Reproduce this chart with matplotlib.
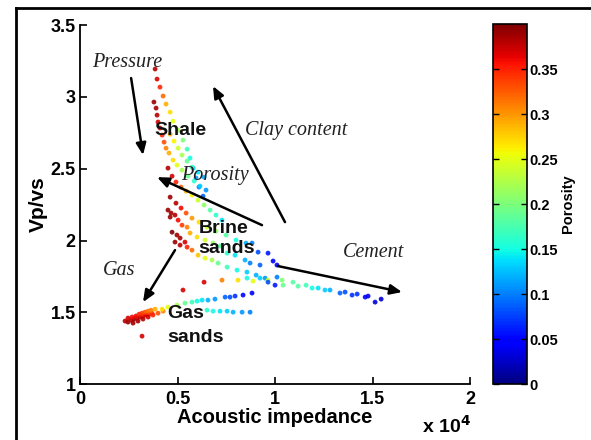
import matplotlib
matplotlib.use("Agg")
import matplotlib.pyplot as plt
from matplotlib.lines import Line2D

# ---- data: acoustic impedance (x 10^4), Vp/Vs, porosity ----
shale_ai = [0.385, 0.395, 0.410, 0.426, 0.441, 0.462, 0.477, 0.503, 0.528, 0.549, 0.564, 0.580, 0.595, 0.610, 0.631,
            0.379, 0.390, 0.395, 0.400, 0.410, 0.421, 0.431, 0.441, 0.456, 0.477, 0.497, 0.523, 0.554, 0.585, 0.615, 0.646,
            0.462, 0.482, 0.503, 0.523, 0.549, 0.574, 0.605, 0.636]
shale_vpvs = [3.194, 3.124, 3.068, 3.006, 2.950, 2.894, 2.831, 2.769, 2.699, 2.636, 2.574, 2.504, 2.435, 2.372, 2.309,
              2.964, 2.922, 2.873, 2.825, 2.783, 2.734, 2.685, 2.643, 2.609, 2.560, 2.525, 2.490, 2.448, 2.414, 2.379, 2.351,
              2.741, 2.692, 2.643, 2.595, 2.553, 2.511, 2.476, 2.441]
shale_phi = [0.38, 0.37, 0.35, 0.32, 0.29, 0.27, 0.25, 0.22, 0.20, 0.17, 0.15, 0.13, 0.11, 0.10, 0.09,
             0.39, 0.385, 0.38, 0.37, 0.36, 0.35, 0.33, 0.31, 0.29, 0.27, 0.25, 0.22, 0.19, 0.16, 0.13, 0.11,
             0.29, 0.26, 0.24, 0.22, 0.19, 0.17, 0.14, 0.12]

brine_ai = [0.451, 0.472, 0.492, 0.518, 0.544, 0.574, 0.605, 0.636, 0.667, 0.697, 0.728,
            0.462, 0.492, 0.518, 0.544, 0.574, 0.610, 0.651, 0.697, 0.749, 0.800, 0.851, 0.882, 0.913, 0.964, 0.990, 1.010,
            0.451, 0.467, 0.487, 0.462, 0.503, 0.523, 0.549, 0.564, 0.600, 0.641, 0.682, 0.718, 0.754, 0.795, 0.846, 0.872, 0.923,
            0.472, 0.497, 0.513, 0.538, 0.487, 0.513, 0.549, 0.574, 0.605, 0.641, 0.677, 0.708, 0.754, 0.805, 0.856, 0.903, 0.949, 1.010]
brine_vpvs = [2.504, 2.448, 2.407, 2.372, 2.344, 2.316, 2.281, 2.247, 2.212, 2.177, 2.142,
              2.302, 2.260, 2.226, 2.191, 2.156, 2.128, 2.093, 2.065, 2.038, 2.003, 1.982, 1.982, 1.919, 1.912, 1.857, 1.829,
              2.212, 2.191, 2.177, 2.163, 2.142, 2.107, 2.093, 2.052, 2.024, 2.003, 1.982, 1.961, 1.912, 1.898, 1.864, 1.843, 1.829,
              2.058, 2.038, 2.017, 1.989, 1.989, 1.968, 1.954, 1.933, 1.898, 1.877, 1.864, 1.843, 1.815, 1.794, 1.780, 1.759, 1.738, 1.745]
brine_phi = [0.38, 0.37, 0.35, 0.32, 0.29, 0.26, 0.24, 0.21, 0.18, 0.16, 0.14,
             0.39, 0.38, 0.36, 0.33, 0.30, 0.27, 0.24, 0.21, 0.18, 0.15, 0.12, 0.10, 0.08, 0.06, 0.05, 0.04,
             0.39, 0.385, 0.38, 0.39, 0.36, 0.34, 0.31, 0.29, 0.27, 0.24, 0.21, 0.18, 0.16, 0.14, 0.12, 0.10, 0.09,
             0.40, 0.39, 0.385, 0.37, 0.39, 0.38, 0.35, 0.32, 0.28, 0.25, 0.22, 0.19, 0.17, 0.15, 0.13, 0.12, 0.11, 0.10]

cement_ai = [0.636, 0.728, 0.810, 0.887, 0.964, 1.036, 1.092, 1.118, 1.159, 1.190, 1.221, 1.256, 1.282, 1.333,
             1.359, 1.395, 1.421, 1.462, 1.477, 1.513, 1.544,
             0.964, 1.000, 1.041, 0.856, 0.923, 0.528, 0.318]
cement_vpvs = [1.710, 1.724, 1.724, 1.717, 1.724, 1.724, 1.710, 1.682, 1.689, 1.669, 1.669, 1.655, 1.655, 1.634,
               1.641, 1.620, 1.627, 1.606, 1.613, 1.571, 1.592,
               1.710, 1.689, 1.689, 1.738, 1.738, 1.655, 1.334]
cement_phi = [0.37, 0.31, 0.27, 0.25, 0.24, 0.20, 0.18, 0.18, 0.17, 0.15, 0.14, 0.13, 0.12, 0.09,
              0.08, 0.07, 0.07, 0.05, 0.04, 0.03, 0.03,
              0.08, 0.06, 0.19, 0.15, 0.13, 0.37, 0.37]

gas_ai = [0.231, 0.246, 0.262, 0.277, 0.292, 0.308, 0.323, 0.338, 0.354, 0.369,
          0.246, 0.267, 0.287, 0.303, 0.318, 0.333, 0.349, 0.364, 0.385,
          0.272, 0.297, 0.323, 0.349, 0.374, 0.400, 0.426,
          0.421, 0.451, 0.497, 0.538, 0.574, 0.600, 0.626, 0.656, 0.692, 0.744, 0.769, 0.795, 0.836, 0.882,
          0.651, 0.682, 0.718, 0.754, 0.785, 0.831, 0.872]
gas_vpvs = [1.439, 1.432, 1.446, 1.453, 1.460, 1.467, 1.474, 1.481, 1.487, 1.494,
            1.460, 1.467, 1.474, 1.487, 1.494, 1.501, 1.508, 1.515, 1.522,
            1.425, 1.439, 1.453, 1.467, 1.481, 1.494, 1.508,
            1.522, 1.536, 1.550, 1.564, 1.571, 1.578, 1.585, 1.585, 1.592, 1.606, 1.606, 1.613, 1.620, 1.634,
            1.515, 1.508, 1.508, 1.508, 1.501, 1.501, 1.501]
gas_phi = [0.38, 0.39, 0.38, 0.39, 0.37, 0.38, 0.36, 0.37, 0.35, 0.34,
           0.37, 0.36, 0.36, 0.35, 0.34, 0.33, 0.32, 0.31, 0.29,
           0.39, 0.385, 0.38, 0.37, 0.35, 0.33, 0.31,
           0.27, 0.25, 0.22, 0.19, 0.17, 0.15, 0.14, 0.12, 0.11, 0.09, 0.08, 0.07, 0.05, 0.04,
           0.16, 0.15, 0.14, 0.13, 0.12, 0.11, 0.10]

x_ticks = [0, 0.5, 1, 1.5, 2]
y_ticks = [1, 1.5, 2, 2.5, 3, 3.5]
cbar_ticks = [0, 0.05, 0.1, 0.15, 0.2, 0.25, 0.3, 0.35]

# ---- figure ----
SANS = "Liberation Sans"
SERIF = "Liberation Serif"
fig = plt.figure(figsize=(5.91, 4.40), dpi=100)
ax = fig.add_axes([0.1354, 0.127, 0.660, 0.816])

all_ai = shale_ai + brine_ai + cement_ai + gas_ai
all_vpvs = shale_vpvs + brine_vpvs + cement_vpvs + gas_vpvs
all_phi = shale_phi + brine_phi + cement_phi + gas_phi
sc = ax.scatter(all_ai, all_vpvs, c=all_phi, cmap="jet", vmin=0, vmax=0.4,
                s=12, linewidths=0, alpha=0.9, zorder=2)

ax.set_xlim(0, 2)
ax.set_ylim(1, 3.5)
ax.set_xticks(x_ticks)
ax.set_yticks(y_ticks)
ax.set_xticklabels(["0", "0.5", "1", "1.5", "2"])
ax.set_yticklabels(["1", "1.5", "2", "2.5", "3", "3.5"])
for sp in ["top", "right"]:
    ax.spines[sp].set_visible(False)
for sp in ["left", "bottom"]:
    ax.spines[sp].set_linewidth(1.3)
ax.tick_params(direction="in", length=5, width=1.2, labelsize=13)
ax.tick_params(axis="x", pad=5)
ax.tick_params(axis="y", pad=3)
for lab in ax.get_xticklabels() + ax.get_yticklabels():
    lab.set_fontfamily(SANS)
    lab.set_fontweight("bold")
ax.set_xlabel("Acoustic impedance", fontsize=14.5, fontweight="bold", family=SANS, labelpad=0)
ax.set_ylabel("Vp/vs", fontsize=15, fontweight="bold", family=SANS, labelpad=2)
fig.text(0.797, 0.008, r"x 10$^{\mathbf{4}}$", ha="right", va="bottom", fontsize=14,
         fontweight="bold", family=SANS)

# arrows
arrows = [((0.262, 3.131), (0.323, 2.595)),
          ((1.051, 2.128), (0.682, 3.075)),
          ((0.933, 2.107), (0.395, 2.441)),
          ((1.015, 1.822), (1.651, 1.641)),
          ((0.487, 1.933), (0.323, 1.571))]
for (x0, y0), (x1, y1) in arrows:
    ax.annotate("", xy=(x1, y1), xytext=(x0, y0),
                arrowprops=dict(arrowstyle="-|>,head_length=0.7,head_width=0.3",
                                color="black", lw=1.8, shrinkA=0, shrinkB=0),
                zorder=3)

it = dict(family=SERIF, style="italic", fontsize=14.5, color="#222222", ha="center", va="center")
ax.text(0.241, 3.242, "Pressure", **it)
ax.text(1.108, 2.769, "Clay content", **it)
ax.text(0.692, 2.455, "Porosity", **it)
ax.text(1.503, 1.919, "Cement", **it)
ax.text(0.200, 1.794, "Gas", **it)

bd = dict(family=SANS, fontweight="bold", fontsize=14, color="#111111", ha="center", va="center", zorder=4)
ax.text(0.513, 2.769, "Shale", **bd)
ax.text(0.738, 2.086, "Brine", **bd)
ax.text(0.749, 1.947, "sands", **bd)
ax.text(0.544, 1.494, "Gas", **bd)
ax.text(0.590, 1.327, "sands", **bd)

# colorbar
cax = fig.add_axes([0.834, 0.127, 0.0575, 0.818])
cb = fig.colorbar(sc, cax=cax, ticks=cbar_ticks)
cb.solids.set_alpha(1)
cb.outline.set_linewidth(1.2)
cax.tick_params(direction="in", length=4, width=1.0, labelsize=10.5, pad=2, left=True, right=True)
cax.set_yticklabels(["0", "0.05", "0.1", "0.15", "0.2", "0.25", "0.3", "0.35"])
for lab in cax.get_yticklabels():
    lab.set_fontfamily(SANS)
    lab.set_fontweight("bold")
cb.set_label("Porosity", fontsize=10.5, fontweight="bold", family=SANS, labelpad=2)

# outer frame (top and left edge)
fig.add_artist(Line2D([16 / 591, 1.0], [1 - 8 / 440, 1 - 8 / 440], transform=fig.transFigure,
                      color="black", lw=2))
fig.add_artist(Line2D([16 / 591, 16 / 591], [0.0, 1 - 8 / 440], transform=fig.transFigure,
                      color="black", lw=2))

fig.savefig("out.png", dpi=100)
